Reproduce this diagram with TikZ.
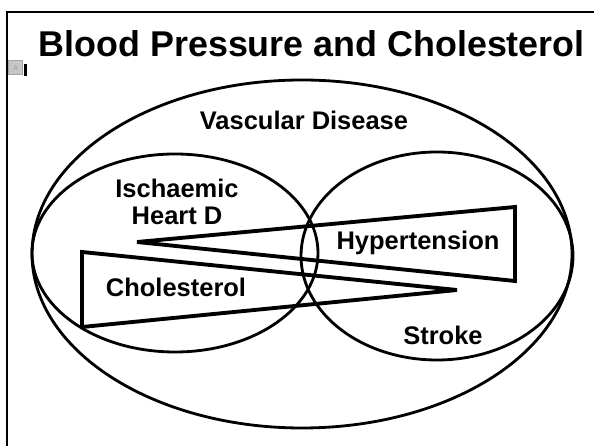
\documentclass[tikz,border=0pt]{standalone}
\usepackage{fontspec}
\setmainfont{Liberation Sans}
\usepackage{tikz}

\begin{document}
\begin{tikzpicture}[
	venn/.style={draw, line width=1.6pt},
	wedge/.style={draw, line width=2.2pt, line join=miter},
	lbl/.style={font=\bfseries\fontsize{14.5}{15.5}\selectfont, align=center, inner sep=0},
	]
	\useasboundingbox (0, 0) rectangle (11.88, 8.92);
	% Frame and title:
	\draw[line width=0.9pt] (0.14, 0) -- (0.14, 8.68) -- (11.88, 8.68);
	\node[anchor=base west, inner sep=0, font=\bfseries\fontsize{20.4}{22}\selectfont] (title) at (0.77, 7.78) {Blood Pressure and Cholesterol};
	\node[shape=rectangle, fill=gray!45, draw=gray!70, line width=0.4pt, inner sep=0, minimum width=0.27cm, minimum height=0.29cm, anchor=north west] (icon) at (0.17, 7.72) {\fontsize{4}{4}\selectfont\textcolor{gray!80}{A}};
	\fill (0.48, 7.40) rectangle (0.54, 7.64);
	% Ellipses:
	\draw[venn] (6.04, 3.84) ellipse [x radius=5.40, y radius=3.48];
	\draw[venn] (3.50, 3.86) ellipse [x radius=2.86, y radius=1.98];
	\draw[venn] (8.74, 3.80) ellipse [x radius=2.72, y radius=2.08];
	% Wedges:
	\coordinate (hyp-tip) at (2.74, 4.08);
	\coordinate (hyp-top) at (10.30, 4.78);
	\coordinate (hyp-bot) at (10.30, 3.30);
	\coordinate (chol-tip) at (9.14, 3.12);
	\coordinate (chol-top) at (1.64, 3.88);
	\coordinate (chol-bot) at (1.64, 2.38);
	\draw[wedge] (hyp-tip) -- (hyp-top) -- (hyp-bot) -- cycle;
	\draw[wedge] (chol-tip) -- (chol-top) -- (chol-bot) -- cycle;
	% Labels:
	\node[lbl] (vascular) at (6.08, 6.52) {Vascular Disease};
	\node[lbl] (ihd) at (3.54, 4.88) {Ischaemic\\Heart D};
	\node[lbl] (hypertension) at (8.36, 4.06) {Hypertension};
	\node[lbl] (cholesterol) at (3.52, 3.18) {Cholesterol};
	\node[lbl] (stroke) at (8.86, 2.22) {Stroke};
\end{tikzpicture}
\end{document}
